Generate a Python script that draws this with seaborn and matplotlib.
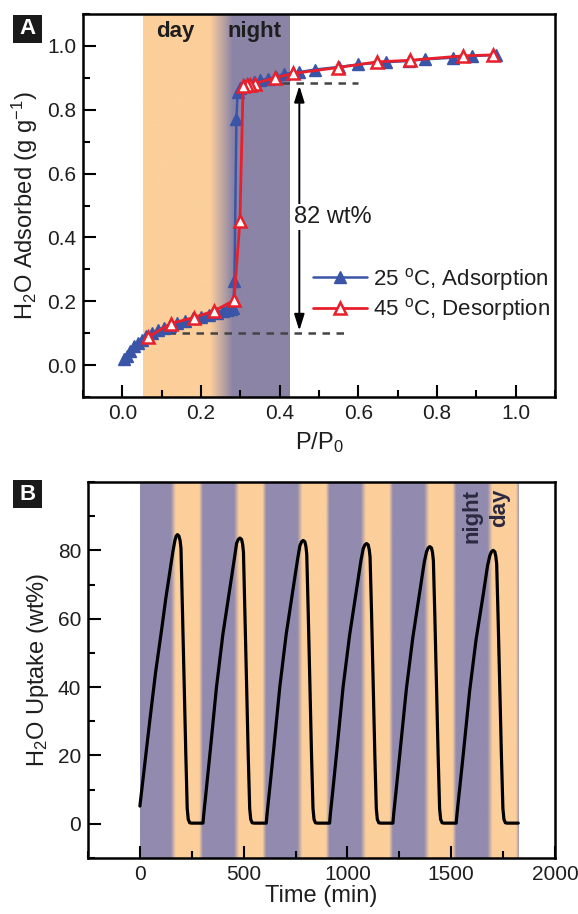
import numpy as np
import pandas as pd
import matplotlib
matplotlib.use('Agg')
import matplotlib.pyplot as plt
import seaborn as sns
from matplotlib.colors import to_rgb
from matplotlib.patches import Rectangle
from matplotlib.ticker import MultipleLocator, FixedLocator

# ---------------- Panel A data ----------------
ads_p = [0.005, 0.012, 0.02, 0.03, 0.04, 0.05, 0.06, 0.075, 0.09, 0.105, 0.12, 0.14,
         0.16, 0.18, 0.20, 0.22, 0.24, 0.255, 0.265, 0.275, 0.282, 0.285, 0.29, 0.293,
         0.30, 0.31, 0.32, 0.335, 0.35, 0.37, 0.39, 0.41, 0.45, 0.49, 0.55, 0.60, 0.67,
         0.73, 0.77, 0.84, 0.89, 0.95]
ads_w = [0.02, 0.03, 0.045, 0.06, 0.07, 0.08, 0.09, 0.10, 0.11, 0.117, 0.124, 0.132,
         0.139, 0.146, 0.152, 0.158, 0.164, 0.169, 0.173, 0.177, 0.18, 0.265, 0.77, 0.855,
         0.868, 0.876, 0.882, 0.887, 0.892, 0.897, 0.902, 0.912, 0.918, 0.926, 0.934, 0.942,
         0.949, 0.953, 0.958, 0.963, 0.968, 0.972]
des_p = [0.943, 0.867, 0.731, 0.647, 0.548, 0.435, 0.387, 0.337, 0.324, 0.316, 0.307,
         0.299, 0.284, 0.234, 0.181, 0.123, 0.064]
des_w = [0.972, 0.969, 0.955, 0.95, 0.932, 0.914, 0.90, 0.882, 0.878, 0.876, 0.875,
         0.453, 0.203, 0.17, 0.149, 0.13, 0.087]
ads_label = r'25 $^{\mathrm{o}}$C, Adsorption'
des_label = r'45 $^{\mathrm{o}}$C, Desorption'

# ---------------- Panel B data (cycles) ----------------
c1_t = [0, 12, 30, 48, 75, 104, 125, 145, 160, 169, 175, 181, 188, 194, 198, 205, 213,
        221, 228, 233, 240, 250]
c1_v = [5.2, 11.5, 21, 30.3, 44, 56.5, 66, 74, 80, 83, 84.2, 84.6, 84.2, 82.8, 80.5, 63,
        42, 21, 4.5, 1.3, 0.3, 0.2]
c2_t = [304, 308, 320, 340, 369, 400, 434, 455, 466, 474, 482, 490, 495, 499, 506, 514,
        522, 529, 534, 541, 551]
c2_v = [0.2, 3, 10, 22, 40, 55.5, 69, 77.5, 82.1, 83.2, 83.6, 83.2, 81.8, 79.5, 62, 41,
        20, 4.5, 1.3, 0.3, 0.2]
c3_t = [609, 613, 625, 645, 674, 705, 739, 760, 771, 779, 787, 795, 800, 804, 811, 819,
        827, 834, 839, 846, 856]
c3_v = [0.2, 3, 10, 22, 40, 55.5, 69, 77.5, 81.4, 82.5, 82.9, 82.5, 81.1, 78.8, 62, 41,
        20, 4.5, 1.3, 0.3, 0.2]
c4_t = [914, 918, 930, 950, 979, 1010, 1044, 1065, 1076, 1084, 1092, 1100, 1105, 1109,
        1116, 1124, 1132, 1139, 1144, 1151, 1161]
c4_v = [0.2, 3, 10, 22, 40, 55, 68.5, 77, 80.5, 81.6, 82.0, 81.6, 80.2, 78, 62, 41, 20,
        4.5, 1.3, 0.3, 0.2]
c5_t = [1219, 1223, 1235, 1255, 1284, 1315, 1349, 1370, 1381, 1389, 1397, 1405, 1410,
        1414, 1421, 1429, 1437, 1444, 1449, 1456, 1466]
c5_v = [0.2, 3, 10, 22, 39.5, 54.5, 68, 76.5, 79.6, 80.7, 81.1, 80.7, 79.3, 77, 61, 40,
        20, 4.5, 1.3, 0.3, 0.2]
c6_t = [1524, 1528, 1540, 1560, 1589, 1620, 1654, 1675, 1686, 1694, 1702, 1710, 1715,
        1719, 1726, 1734, 1742, 1749, 1754, 1761, 1771, 1823]
c6_v = [0.2, 3, 10, 21.5, 39, 54, 67, 75.5, 78.5, 79.6, 80.0, 79.6, 78.2, 76, 60, 39.5,
        19.5, 4.5, 1.3, 0.3, 0.2, 0.2]

# ---------------- styling ----------------
sns.set_style('ticks')
plt.rcParams['font.family'] = ['Liberation Sans', 'DejaVu Sans']
plt.rcParams['mathtext.fontset'] = 'custom'
plt.rcParams['mathtext.rm'] = 'Liberation Sans'
plt.rcParams['mathtext.it'] = 'Liberation Sans:italic'
plt.rcParams['mathtext.bf'] = 'Liberation Sans:bold'

BLUE = '#3A55A8'
RED = '#E8202C'
ORANGE = np.array(to_rgb('#FCCF9B'))
PURPLE_A = np.array(to_rgb('#8B84A6'))
PURPLE_B = np.array(to_rgb('#928BAF'))
TXT = '#1e1e1e'
FS_TICK = 15
FS_LAB = 17
FS_LEG = 16

W, H = 578, 914
fig = plt.figure(figsize=(W / 100, H / 100), dpi=100)
axA = fig.add_axes([83 / W, 1 - 397 / H, 472 / W, 383 / H])
axB = fig.add_axes([88 / W, 1 - 858 / H, 467 / W, 376 / H])

# ---- Panel A shading ----
xs = np.linspace(0.053, 0.425, 600)
fr = np.clip((xs - 0.223) / (0.28 - 0.223), 0, 1)
imgA = ORANGE[None, :] * (1 - fr[:, None]) + PURPLE_A[None, :] * fr[:, None]
axA.imshow(imgA[None, :, :], extent=[0.053, 0.425, -0.1, 1.1], aspect='auto',
           zorder=0, interpolation='bilinear')

# dashed guides and arrow
axA.plot([0.30, 0.60], [0.885, 0.885], ls=(0, (3, 2.6)), color='#444444', lw=1.8, zorder=2)
axA.plot([0.117, 0.58], [0.099, 0.099], ls=(0, (3, 2.6)), color='#444444', lw=1.8, zorder=2)
axA.annotate('', xy=(0.45, 0.875), xytext=(0.45, 0.108),
             arrowprops=dict(arrowstyle='<|-|>,head_length=0.7,head_width=0.22',
                             color='black', lw=1.4, shrinkA=0, shrinkB=0,
                             mutation_scale=14), zorder=2)
axA.text(0.437, 0.463, '82 wt%', ha='left', va='center', fontsize=FS_LAB, color=TXT,
         bbox=dict(fc='white', ec='none', pad=1.5), zorder=3)

dfA1 = pd.DataFrame({'p': ads_p, 'w': ads_w})
dfA2 = pd.DataFrame({'p': des_p, 'w': des_w})
sns.lineplot(data=dfA1, x='p', y='w', sort=False, estimator=None, ax=axA, color=BLUE,
             lw=1.8, marker='^', markersize=9, markerfacecolor=BLUE, markeredgecolor=BLUE,
             markeredgewidth=1, label=ads_label, zorder=4)
sns.lineplot(data=dfA2, x='p', y='w', sort=False, estimator=None, ax=axA, color=RED,
             lw=2.0, marker='^', markersize=9, markerfacecolor='white', markeredgecolor=RED,
             markeredgewidth=1.8, label=des_label, zorder=5)

axA.text(0.134, 1.045, 'day', ha='center', va='center', fontsize=16, fontweight='bold', color=TXT)
axA.text(0.337, 1.045, 'night', ha='center', va='center', fontsize=16, fontweight='bold', color=TXT)

leg = axA.legend(loc='center left', bbox_to_anchor=(0.488, 0.268), frameon=False,
                 fontsize=FS_LEG, handlelength=2.4, handletextpad=0.3, labelspacing=0.15,
                 borderpad=0, borderaxespad=0)
for t in leg.get_texts():
    t.set_color(TXT)

axA.set_xlim(-0.1, 1.1)
axA.set_ylim(-0.1, 1.1)
axA.xaxis.set_major_locator(MultipleLocator(0.2))
axA.xaxis.set_minor_locator(MultipleLocator(0.1))
axA.yaxis.set_major_locator(MultipleLocator(0.2))
axA.yaxis.set_minor_locator(MultipleLocator(0.1))
axA.set_xlabel(r'P/P$_0$', fontsize=FS_LAB, color=TXT, labelpad=5)
axA.set_ylabel(r'H$_2$O Adsorbed (g g$^{-1}$)', fontsize=FS_LAB, color=TXT, labelpad=5)

# ---- Panel B shading ----
ts = np.linspace(0, 1823, 3000)
ph = np.mod(ts, 304.8)
frB = np.interp(ph, [0, 148, 172, 285, 302, 304.8], [0, 0, 1, 1, 0, 0])
imgB = PURPLE_B[None, :] * (1 - frB[:, None]) + ORANGE[None, :] * frB[:, None]
axB.imshow(imgB[None, :, :], extent=[0, 1823, -10, 100], aspect='auto', zorder=0,
           interpolation='bilinear')

tB = c1_t + c2_t + c3_t + c4_t + c5_t + c6_t
vB = c1_v + c2_v + c3_v + c4_v + c5_v + c6_v
dfB = pd.DataFrame({'t': tB, 'v': vB})
sns.lineplot(data=dfB, x='t', y='v', sort=False, estimator=None, ax=axB, color='black',
             lw=2.3, zorder=3, solid_joinstyle='round', solid_capstyle='round')

axB.text(1598, 98, 'night', rotation=90, ha='center', va='top', fontsize=16,
         fontweight='bold', color='#2b2940')
axB.text(1735, 98, 'day', rotation=90, ha='center', va='top', fontsize=16,
         fontweight='bold', color='#2b2940')

axB.set_xlim(-250, 2000)
axB.set_ylim(-10, 100)
axB.xaxis.set_major_locator(MultipleLocator(500))
axB.xaxis.set_minor_locator(MultipleLocator(250))
axB.yaxis.set_major_locator(FixedLocator([0, 20, 40, 60, 80]))
axB.yaxis.set_minor_locator(MultipleLocator(10))
axB.set_xlabel('Time (min)', fontsize=FS_LAB, color=TXT, labelpad=1)
axB.set_ylabel(r'H$_2$O Uptake (wt%)', fontsize=FS_LAB, color=TXT, labelpad=5)

for ax in (axA, axB):
    ax.tick_params(which='both', direction='in', top=False, right=False,
                   labelsize=FS_TICK, labelcolor=TXT, width=1.5, color='black', pad=5)
    ax.tick_params(which='major', length=9)
    ax.tick_params(which='minor', length=5)
    for s in ax.spines.values():
        s.set_linewidth(1.8)
        s.set_color('black')
        s.set_visible(True)

# panel letters
for (y0, letter) in ((15, 'A'), (480, 'B')):
    fig.patches.append(Rectangle((13 / W, 1 - (y0 + 28) / H), 29 / W, 28 / H,
                                 transform=fig.transFigure, facecolor='#1a1a1a',
                                 edgecolor='none'))
    fig.text(27.5 / W, 1 - (y0 + 14) / H, letter, ha='center', va='center',
             fontsize=16, fontweight='bold', color='white')

fig.savefig('out.png', dpi=100)
